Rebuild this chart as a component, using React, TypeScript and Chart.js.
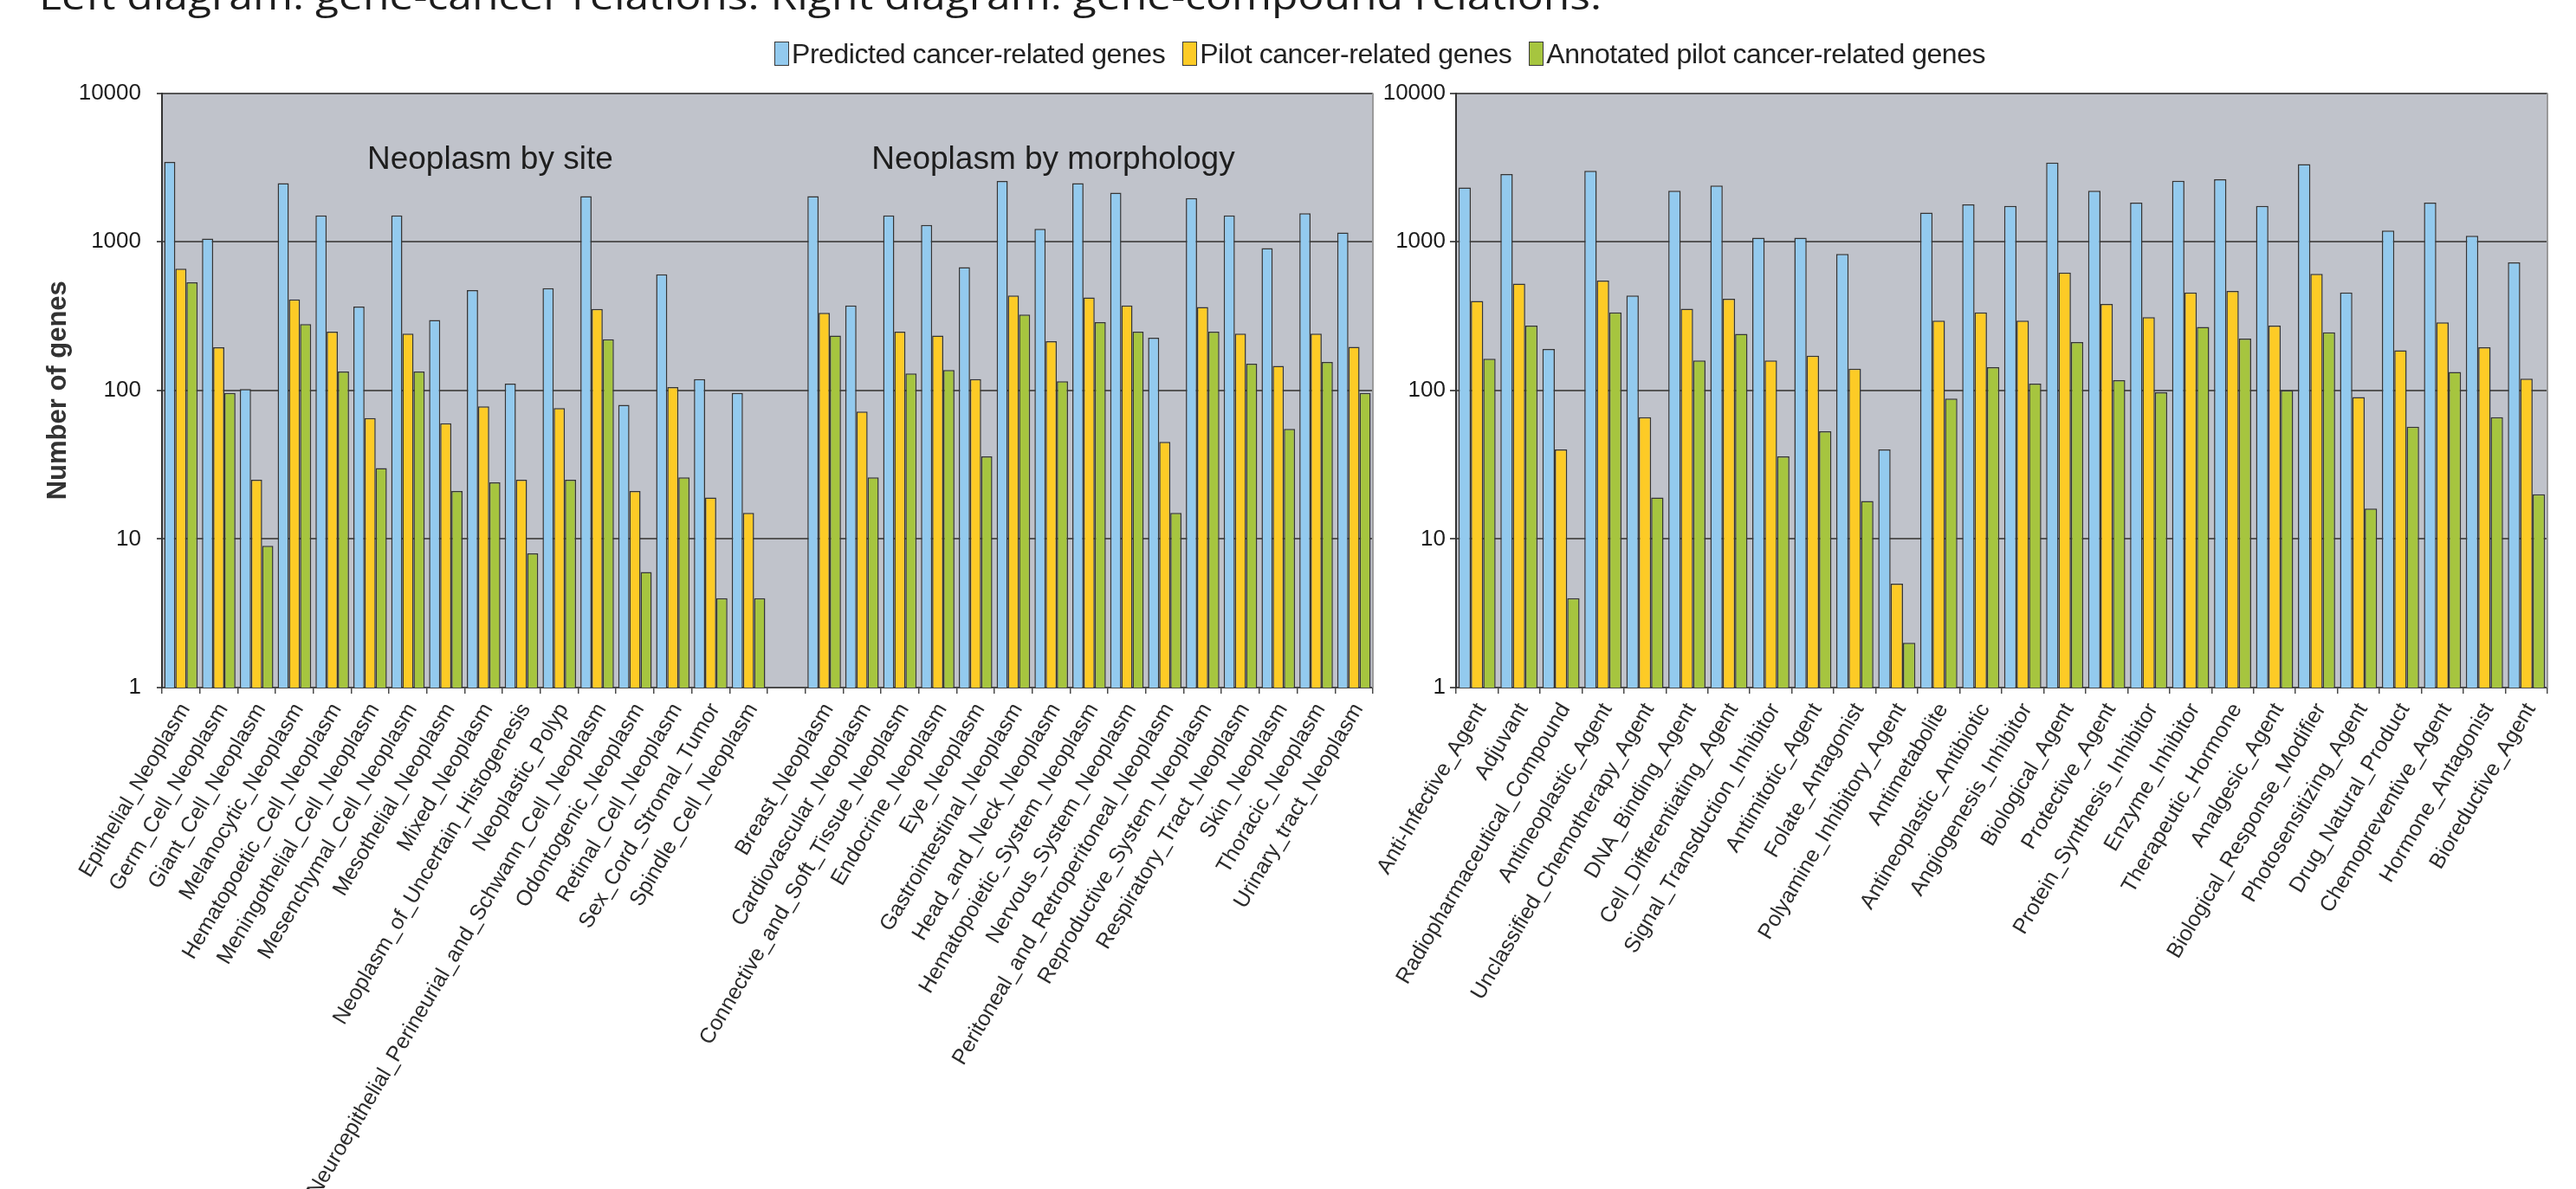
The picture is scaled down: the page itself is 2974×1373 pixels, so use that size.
import React, { useEffect, useRef } from "react";
import { Chart, registerables } from "chart.js";

Chart.register(...registerables);

const FONT = '"Liberation Sans", Arial, Helvetica, sans-serif';

const heading = "Left diagram: gene-cancer relations. Right diagram: gene-compound relations.";

const seriesNames = [
  "Predicted cancer-related genes",
  "Pilot cancer-related genes",
  "Annotated pilot cancer-related genes",
];
const seriesColors = ["#93CAEE", "#FDCB26", "#A6C53F"];

const yTickValues = [1, 10, 100, 1000, 10000];

// Neoplasm by site
const siteNeoplasms = [
  "Epithelial_Neoplasm",
  "Germ_Cell_Neoplasm",
  "Giant_Cell_Neoplasm",
  "Melanocytic_Neoplasm",
  "Hematopoetic_Cell_Neoplasm",
  "Meningothelial_Cell_Neoplasm",
  "Mesenchymal_Cell_Neoplasm",
  "Mesothelial_Neoplasm",
  "Mixed_Neoplasm",
  "Neoplasm_of_Uncertain_Histogenesis",
  "Neoplastic_Polyp",
  "Neuroepithelial_Perineurial_and_Schwann_Cell_Neoplasm",
  "Odontogenic_Neoplasm",
  "Retinal_Cell_Neoplasm",
  "Sex_Cord_Stromal_Tumor",
  "Spindle_Cell_Neoplasm",
];
const sitePredicted = [3440, 1050, 102, 2480, 1505, 366, 1505, 297, 472, 111, 487, 2024, 80, 604, 119, 96];
const sitePilot = [658, 195, 25, 409, 248, 65, 241, 60, 78, 25, 76, 353, 21, 105, 19, 15];
const siteAnnotated = [534, 96, 9, 279, 134, 30, 134, 21, 24, 8, 25, 221, 6, 26, 4, 4];

// Neoplasm by morphology
const morphologyNeoplasms = [
  "Breast_Neoplasm",
  "Cardiovascular_Neoplasm",
  "Connective_and_Soft_Tissue_Neoplasm",
  "Endocrine_Neoplasm",
  "Eye_Neoplasm",
  "Gastrointestinal_Neoplasm",
  "Head_and_Neck_Neoplasm",
  "Hematopoietic_System_Neoplasm",
  "Nervous_System_Neoplasm",
  "Peritoneal_and_Retroperitoneal_Neoplasm",
  "Reproductive_System_Neoplasm",
  "Respiratory_Tract_Neoplasm",
  "Skin_Neoplasm",
  "Thoracic_Neoplasm",
  "Urinary_tract_Neoplasm",
];
const morphologyPredicted = [2024, 373, 1505, 1298, 675, 2558, 1220, 2480, 2138, 226, 1963, 1505, 907, 1552, 1155];
const morphologyPilot = [332, 72, 248, 234, 119, 435, 214, 422, 373, 45, 364, 241, 146, 241, 196];
const morphologyAnnotated = [234, 26, 130, 137, 36, 324, 115, 288, 248, 15, 248, 151, 55, 155, 96];

const sectionTitles = ["Neoplasm by site", "Neoplasm by morphology"];

// Compound classes
const compoundClasses = [
  "Anti-Infective_Agent",
  "Adjuvant",
  "Radiopharmaceutical_Compound",
  "Antineoplastic_Agent",
  "Unclassified_Chemotherapy_Agent",
  "DNA_Binding_Agent",
  "Cell_Differentiating_Agent",
  "Signal_Transduction_Inhibitor",
  "Antimitotic_Agent",
  "Folate_Antagonist",
  "Polyamine_Inhibitory_Agent",
  "Antimetabolite",
  "Antineoplastic_Antibiotic",
  "Angiogenesis_Inhibitor",
  "Biological_Agent",
  "Protective_Agent",
  "Protein_Synthesis_Inhibitor",
  "Enzyme_Inhibitor",
  "Therapeutic_Hormone",
  "Analgesic_Agent",
  "Biological_Response_Modifier",
  "Photosensitizing_Agent",
  "Drug_Natural_Product",
  "Chemopreventive_Agent",
  "Hormone_Antagonist",
  "Bioreductive_Agent",
];
const compoundPredicted = [2313, 2851, 190, 2995, 434, 2201, 2385, 1065, 1065, 828, 40, 1570, 1786, 1742, 3407, 2201, 1831, 2567, 2631, 1742, 3323, 456, 1190, 1831, 1098, 727];
const compoundPilot = [400, 522, 40, 548, 66, 354, 413, 159, 171, 140, 5, 294, 335, 294, 620, 381, 311, 456, 467, 273, 608, 90, 186, 287, 195, 120];
const compoundAnnotated = [163, 273, 4, 335, 19, 159, 240, 36, 53, 18, 2, 88, 143, 111, 211, 117, 97, 267, 223, 100, 246, 16, 57, 133, 66, 20];

// one empty slot separates the two neoplasm groupings
const cancerLabels = [...siteNeoplasms, "", ...morphologyNeoplasms];
const joinGroups = (a: number[], b: number[]) => [...a, null, ...b];

const PAGE_W = 2974;
const PAGE_H = 1373;
const PLOT_TOP = 107.5;
const PLOT_BOTTOM = 794;

// gray plot background, right frame edge and in-plot captions
const plotFrame = {
  id: "plotFrame",
  beforeDraw(chart: any, _args: any, opts: any) {
    const { ctx, chartArea: a } = chart;
    ctx.save();
    ctx.fillStyle = opts.background;
    ctx.fillRect(a.left, a.top, a.right - a.left, a.bottom - a.top);
    ctx.restore();
  },
  afterDraw(chart: any, _args: any, opts: any) {
    const { ctx, chartArea: a } = chart;
    ctx.save();
    ctx.strokeStyle = opts.edgeColor;
    ctx.lineWidth = 2;
    ctx.beginPath();
    ctx.moveTo(a.right, a.top);
    ctx.lineTo(a.right, a.bottom);
    ctx.stroke();
    ctx.fillStyle = "#1e1e1e";
    ctx.font = `37px ${FONT}`;
    ctx.textAlign = "center";
    ctx.textBaseline = "middle";
    for (const c of opts.captions || []) {
      ctx.fillText(c.text, a.left + c.fx * (a.right - a.left), a.top + c.fy * (a.bottom - a.top));
    }
    ctx.restore();
  },
};

type PanelProps = {
  left: number;
  width: number;
  labels: string[];
  series: (number | null)[][];
  padLeft: number;
  padRight: number;
  yTickLength: number;
  yTickPadding: number;
  yTitle?: string;
  captions?: { text: string; fx: number; fy: number }[];
};

function BarPanel(props: PanelProps) {
  const ref = useRef<HTMLCanvasElement | null>(null);

  useEffect(() => {
    const canvas = ref.current;
    if (!canvas) return;
    const chart = new Chart(canvas, {
      type: "bar",
      data: {
        labels: props.labels,
        datasets: seriesNames.map((name, i) => ({
          label: name,
          data: props.series[i],
          backgroundColor: seriesColors[i],
          borderColor: "#353535",
          borderWidth: 1.5,
          categoryPercentage: 0.885,
          barPercentage: 1,
        })),
      },
      options: {
        responsive: false,
        animation: false,
        devicePixelRatio: 1,
        layout: {
          padding: { left: props.padLeft, right: props.padRight, top: PLOT_TOP, bottom: 0 },
        },
        plugins: {
          legend: { display: false },
          tooltip: { enabled: false },
          plotFrame: {
            background: "#C0C3CB",
            edgeColor: "#9a9a9a",
            captions: props.captions || [],
          },
        } as any,
        scales: {
          x: {
            type: "category",
            offset: true,
            grid: {
              display: true,
              drawOnChartArea: false,
              drawTicks: true,
              tickLength: 7,
              color: "#4a4a4a",
              lineWidth: 1.5,
              offset: true,
            },
            border: { display: true, color: "#4a4a4a", width: 2 },
            ticks: {
              autoSkip: false,
              minRotation: 59.5,
              maxRotation: 59.5,
              padding: 6,
              labelOffset: 5,
              color: "#2b2b2b",
              font: { family: FONT, size: 25 },
            },
            afterFit: (s: any) => {
              s.height = PAGE_H - PLOT_BOTTOM;
              s.paddingLeft = 0;
              s.paddingRight = 0;
            },
          },
          y: {
            type: "logarithmic",
            min: 1,
            max: 10000,
            afterBuildTicks: (s: any) => {
              s.ticks = yTickValues.map((value) => ({ value }));
            },
            grid: {
              color: "#555555",
              lineWidth: 2,
              drawTicks: true,
              tickLength: props.yTickLength,
            },
            border: { display: true, color: "#333333", width: 2 },
            ticks: {
              padding: props.yTickPadding,
              color: "#1d1d1d",
              font: { family: FONT, size: 26 },
              callback: (v: any) => String(v),
            },
            title: props.yTitle
              ? {
                  display: true,
                  text: props.yTitle,
                  color: "#333333",
                  font: { family: FONT, size: 31, weight: "bold" },
                  padding: { top: 28.5, bottom: -13 },
                }
              : { display: false },
          },
        },
      } as any,
      plugins: [plotFrame as any],
    });
    return () => chart.destroy();
  }, []);

  return (
    <canvas
      ref={ref}
      width={props.width}
      height={PAGE_H}
      style={{ position: "absolute", left: props.left, top: 0, width: props.width, height: PAGE_H }}
    />
  );
}

function Heading() {
  const ref = useRef<HTMLSpanElement | null>(null);
  useEffect(() => {
    const fit = () => {
      const el = ref.current;
      if (!el) return;
      el.style.transform = "none";
      const w = el.getBoundingClientRect().width;
      if (w > 0) el.style.transform = `scaleX(${1804 / w})`;
    };
    fit();
    if ((document as any).fonts && (document as any).fonts.ready) {
      (document as any).fonts.ready.then(fit);
    }
  }, []);
  return (
    <span
      ref={ref}
      style={{
        position: "absolute",
        left: 45,
        top: -26,
        fontFamily: '"Open Sans", sans-serif',
        fontSize: 42,
        lineHeight: 1,
        color: "#1c1c1c",
        whiteSpace: "nowrap",
        transformOrigin: "0 0",
      }}
    >
      {heading}
    </span>
  );
}

function Legend() {
  return (
    <div
      style={{
        position: "absolute",
        left: 894,
        top: 47,
        display: "flex",
        alignItems: "center",
        fontFamily: FONT,
        fontSize: 32,
        lineHeight: "30px",
        letterSpacing: "-0.45px",
        color: "#222222",
        whiteSpace: "nowrap",
      }}
    >
      {seriesNames.map((name, i) => (
        <span key={name} style={{ display: "flex", alignItems: "center", marginRight: 20 }}>
          <span
            style={{
              display: "inline-block",
              width: 17,
              height: 28,
              boxSizing: "border-box",
              border: "1.5px solid #3a3a3a",
              background: seriesColors[i],
              marginRight: 3,
            }}
          />
          {name}
        </span>
      ))}
    </div>
  );
}

export default function App() {
  return (
    <div
      style={{
        position: "absolute",
        left: 0,
        top: 0,
        width: PAGE_W,
        height: PAGE_H,
        overflow: "hidden",
        background: "#ffffff",
      }}
    >
      <BarPanel
        left={0}
        width={1610}
        labels={cancerLabels}
        series={[
          joinGroups(sitePredicted, morphologyPredicted),
          joinGroups(sitePilot, morphologyPilot),
          joinGroups(siteAnnotated, morphologyAnnotated),
        ]}
        padLeft={20}
        padRight={25}
        yTickLength={6}
        yTickPadding={18}
        yTitle="Number of genes"
        captions={[
          { text: sectionTitles[0], fx: 0.271, fy: 0.113 },
          { text: sectionTitles[1], fx: 0.736, fy: 0.113 },
        ]}
      />
      <BarPanel
        left={1500}
        width={1474}
        labels={compoundClasses}
        series={[compoundPredicted, compoundPilot, compoundAnnotated]}
        padLeft={91.7}
        padRight={33}
        yTickLength={7}
        yTickPadding={5}
      />
      <Heading />
      <Legend />
    </div>
  );
}
